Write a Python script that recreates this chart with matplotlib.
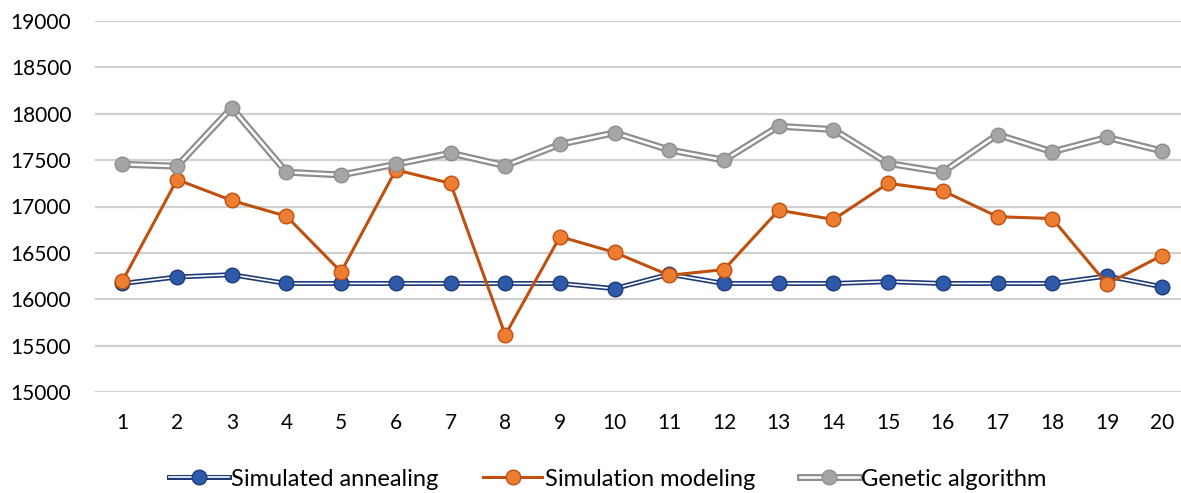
import matplotlib
matplotlib.use("Agg")
import matplotlib.pyplot as plt
from matplotlib.lines import Line2D
from matplotlib.legend_handler import HandlerTuple

x = list(range(1, 21))
annealing = [16170, 16240, 16265, 16170, 16170, 16170, 16170, 16170, 16170, 16115,
             16270, 16170, 16170, 16170, 16190, 16170, 16170, 16170, 16250, 16135]
modeling = [16195, 17290, 17065, 16895, 16295, 17395, 17250, 15615, 16675, 16505,
            16258, 16320, 16960, 16860, 17250, 17170, 16890, 16870, 16165, 16470]
genetic = [17455, 17435, 18065, 17370, 17340, 17455, 17575, 17440, 17670, 17795,
           17610, 17500, 17865, 17830, 17465, 17370, 17775, 17590, 17745, 17600]
labels = ["Simulated annealing", "Simulation modeling", "Genetic algorithm"]
yticks = list(range(15000, 19001, 500))

plt.rcParams['font.family'] = ['Lato', 'DejaVu Sans']

fig = plt.figure(figsize=(11.81, 4.93), dpi=100)
ax = fig.add_axes([95/1181, 101/493, 1094/1181, 371/493])

def compound(ax, xs, ys, outer, inner, ow, iw, mfc, mec, ms, z):
    ax.plot(xs, ys, color=outer, lw=ow, zorder=z, solid_joinstyle='round')
    ax.plot(xs, ys, color=inner, lw=iw, zorder=z + 0.1, solid_joinstyle='round')
    ax.plot(xs, ys, ls='none', marker='o', ms=ms, mfc=mfc, mec=mec, mew=1.0, zorder=z + 0.2)

compound(ax, x, annealing, '#1F3A78', 'white', 3.6, 1.2, '#2D5BAA', '#1F3A78', 10.5, 3)
ax.plot(x, modeling, color='#C0500F', lw=2.2, zorder=4)
ax.plot(x, modeling, ls='none', marker='o', ms=10.5, mfc='#ED7D31', mec='#C0500F', mew=1.0, zorder=4.2)
compound(ax, x, genetic, '#8E8E8E', 'white', 5.0, 1.8, '#A5A5A5', '#8E8E8E', 10.5, 5)

ax.set_xlim(0.5, 20.5)
ax.set_ylim(15000, 19000)
ax.set_yticks(yticks)
ax.set_xticks(x)
ax.set_xticklabels([str(v) for v in x])
ax.tick_params(length=0, labelsize=15, colors='#000000')
ax.tick_params(axis='x', pad=15)
ax.tick_params(axis='y', pad=17)
for s in ax.spines.values():
    s.set_visible(False)
ax.grid(axis='y', color='#D0D0D0', lw=1.6, zorder=0)
ax.set_axisbelow(True)

h1 = (Line2D([], [], color='#1F3A78', lw=3.6), Line2D([], [], color='white', lw=1.2),
      Line2D([], [], ls='none', marker='o', ms=10.5, mfc='#2D5BAA', mec='#1F3A78'))
h2 = (Line2D([], [], color='#C0500F', lw=2.2),
      Line2D([], [], ls='none', marker='o', ms=10.5, mfc='#ED7D31', mec='#C0500F'))
h3 = (Line2D([], [], color='#8E8E8E', lw=5.0), Line2D([], [], color='white', lw=1.8),
      Line2D([], [], ls='none', marker='o', ms=10.5, mfc='#A5A5A5', mec='#8E8E8E'))
fig.legend([h1, h2, h3], labels, handler_map={tuple: HandlerTuple(ndivide=1, pad=0)},
           loc='center', bbox_to_anchor=(608/1181, 1 - 479/493), ncol=3, frameon=False,
           fontsize=17, handlelength=2.5, handletextpad=0.1, columnspacing=1.9)

fig.savefig("out.png", dpi=100)
